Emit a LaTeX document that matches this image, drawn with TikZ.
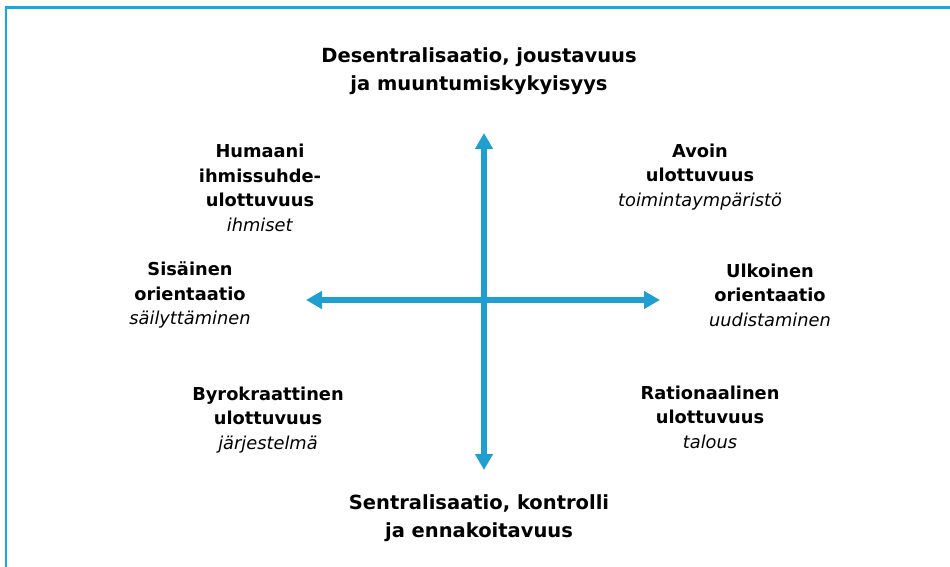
\documentclass[tikz,border=0pt]{standalone}
\usepackage{fontspec}
\setmainfont{DejaVu Sans}
\usetikzlibrary{arrows.meta}
\definecolor{framecol}{RGB}{20,168,228}
\definecolor{axiscol}{RGB}{31,158,209}
\tikzset{
  axis/.style={draw=axiscol, line width=5.5pt, {Triangle[width=17pt,length=16pt]}-{Triangle[width=17pt,length=16pt]}},
  poletext/.style={align=center, font=\fontsize{19.5}{28}\selectfont\bfseries, inner sep=0pt},
  dimtext/.style={align=center, font=\fontsize{17.8}{24.5}\selectfont, inner sep=0pt},
}
\begin{document}
\begin{tikzpicture}[x=1pt, y=-1pt]
  \useasboundingbox (0,0) rectangle (950,567);
  % frame open at the right and bottom
  \draw[framecol, line width=2.5pt] (6,567) -- (6,7.5) -- (950,7.5);

  % axes
  \coordinate (top) at (484,133);
  \coordinate (bot) at (484,470);
  \coordinate (left) at (306,300);
  \coordinate (right) at (660,300);
  \draw[axis] (left) -- (right);
  \draw[axis] (bot) -- (top);

  % poles of the vertical axis
  \node[poletext] (north) at (479,71) {Desentralisaatio, joustavuus\\ja muuntumiskykyisyys};
  \node[poletext] (south) at (479,518) {Sentralisaatio, kontrolli\\ja ennakoitavuus};

  % orientations on the horizontal axis
  \node[dimtext] (west) at (190,295) {\textbf{Sisäinen}\\\textbf{orientaatio}\\\textit{säilyttäminen}};
  \node[dimtext] (east) at (770,295) {\textbf{Ulkoinen}\\\textbf{orientaatio}\\\textit{uudistaminen}};

  % quadrant dimensions
  \node[dimtext] (nw) at (260,188) {\textbf{Humaani}\\\textbf{ihmissuhde-}\\\textbf{ulottuvuus}\\\textit{ihmiset}};
  \node[dimtext] (ne) at (700,177) {\textbf{Avoin}\\\textbf{ulottuvuus}\\\textit{toimintaympäristö}};
  \node[dimtext] (sw) at (268,420) {\textbf{Byrokraattinen}\\\textbf{ulottuvuus}\\\textit{järjestelmä}};
  \node[dimtext] (se) at (710,417) {\textbf{Rationaalinen}\\\textbf{ulottuvuus}\\\textit{talous}};
\end{tikzpicture}
\end{document}
